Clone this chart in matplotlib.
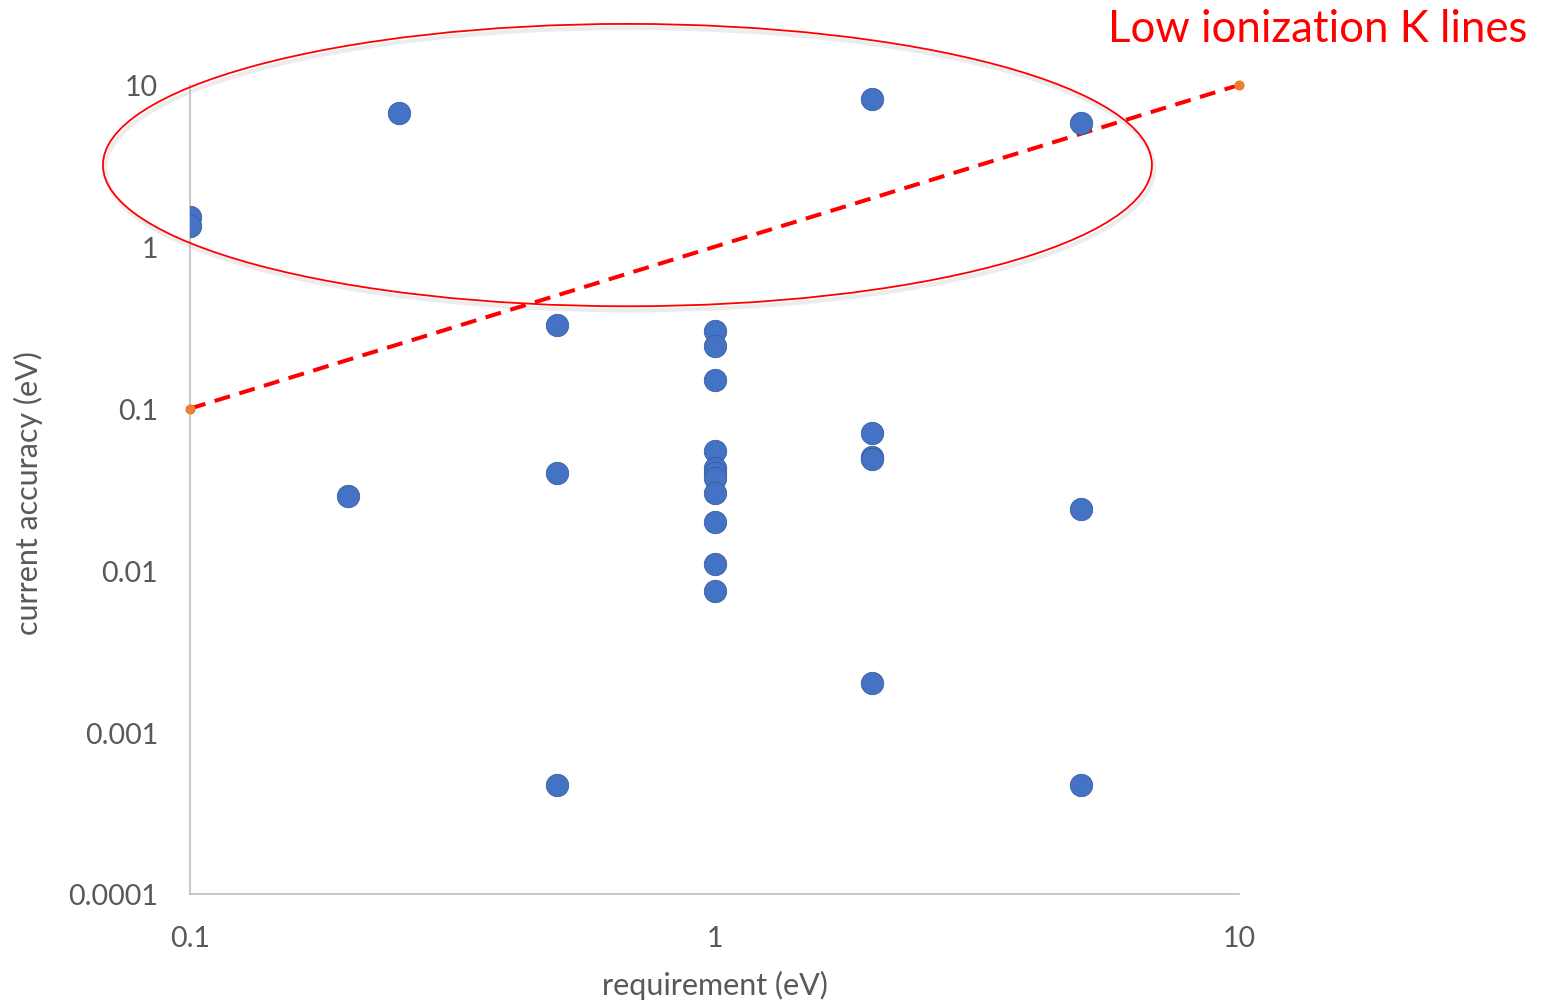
import matplotlib
matplotlib.use('Agg')
import matplotlib.pyplot as plt
from matplotlib.patches import Ellipse
from matplotlib.ticker import FixedLocator, FixedFormatter, NullLocator

plt.rcParams['font.family'] = ['Lato', 'DejaVu Sans']

# requirement (eV) vs current accuracy (eV)
requirement = [0.1, 0.1, 0.25, 2, 5,
               0.5, 1, 1, 1,
               0.2, 0.5, 1, 1, 1, 1, 1, 1, 1, 1,
               2, 2, 2, 5, 2, 0.5, 5]
accuracy = [1.52, 1.35, 6.7, 8.2, 5.8,
            0.33, 0.30, 0.245, 0.15,
            0.029, 0.04, 0.055, 0.043, 0.040, 0.037, 0.03, 0.02, 0.011, 0.0075,
            0.071, 0.05, 0.049, 0.024, 0.002, 0.00047, 0.00047]

# 1:1 reference line
ref_x = [0.1, 10]
ref_y = [0.1, 10]

xticks = [0.1, 1, 10]
xlabels = ['0.1', '1', '10']
yticks = [0.0001, 0.001, 0.01, 0.1, 1, 10]
ylabels = ['0.0001', '0.001', '0.01', '0.1', '1', '10']

grey = '#595959'

fig = plt.figure(figsize=(15.46, 10.03), dpi=100)
ax = fig.add_axes([190 / 1546, 1 - 895 / 1003, 1049 / 1546, 809 / 1003])

ax.scatter(requirement, accuracy, s=260, color='#4472c4', edgecolors='#3a5f9f',
           linewidths=0.6, zorder=3)
ax.plot(ref_x, ref_y, color='#ff0000', lw=2.9, dashes=(4, 2.4), zorder=2)
ax.scatter(ref_x, ref_y, s=40, color='#ed7d31', zorder=4, clip_on=False)

ax.set_xscale('log')
ax.set_yscale('log')
ax.set_xlim(0.1, 10)
ax.set_ylim(0.0001, 10)

ax.xaxis.set_major_locator(FixedLocator(xticks))
ax.xaxis.set_major_formatter(FixedFormatter(xlabels))
ax.yaxis.set_major_locator(FixedLocator(yticks))
ax.yaxis.set_major_formatter(FixedFormatter(ylabels))
ax.xaxis.set_minor_locator(NullLocator())
ax.yaxis.set_minor_locator(NullLocator())
ax.tick_params(length=0, labelsize=20.5, labelcolor=grey)
ax.tick_params(axis='x', pad=22)
ax.tick_params(axis='y', pad=23)

for side in ['top', 'right']:
    ax.spines[side].set_visible(False)
for side in ['left', 'bottom']:
    ax.spines[side].set_color('#bfbfbf')
    ax.spines[side].set_linewidth(1.2)

ax.set_xlabel('requirement (eV)', fontsize=22, color=grey)
ax.set_ylabel('current accuracy (eV)', fontsize=22, color=grey)
ax.xaxis.set_label_coords(0.5, -0.094)
ax.yaxis.set_label_coords(-0.140, 0.497)

# highlight ellipse with a soft shadow
shadow = Ellipse((0.419, 0.896), 1.0, 0.349, transform=ax.transAxes, fill=False,
                 edgecolor='#d0d0d0', lw=3, alpha=0.4, clip_on=False, zorder=1)
ax.add_patch(shadow)
ell = Ellipse((0.417, 0.901), 1.0, 0.349, transform=ax.transAxes, fill=False,
              edgecolor='#ff0000', lw=1.3, clip_on=False, zorder=5)
ax.add_patch(ell)

fig.text(1527 / 1546, 1 - 42 / 1003, 'Low ionization K lines', color='#ff0000',
         fontsize=31.5, ha='right', va='baseline')

fig.savefig('out.png', dpi=100, facecolor='white')
